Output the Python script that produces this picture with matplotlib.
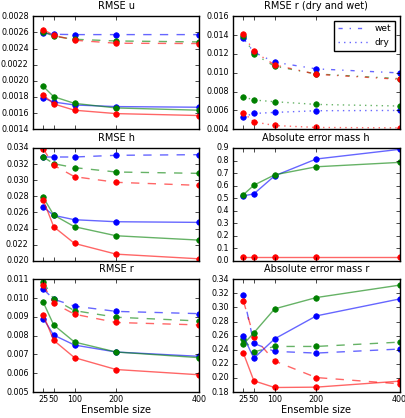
import matplotlib
matplotlib.use("Agg")
import matplotlib.pyplot as plt

plt.style.use("classic")
plt.rcParams["figure.facecolor"] = "white"
plt.rcParams["savefig.facecolor"] = "white"
plt.rcParams["font.size"] = 6
plt.rcParams["font.family"] = ["DejaVu Sans"]

ensemble = [25, 50, 100, 200, 400]

# RMSE u
u_blue_dashed = [0.002593, 0.002577, 0.002573, 0.002573, 0.002573]
u_green_dashed = [0.00261, 0.002552, 0.002515, 0.002494, 0.002482]
u_red_dashed = [0.002635, 0.002565, 0.002503, 0.002466, 0.002462]
u_blue_solid = [0.001787, 0.001737, 0.0017, 0.00168, 0.001672]
u_green_solid = [0.00193, 0.001803, 0.00172, 0.001663, 0.001635]
u_red_solid = [0.001824, 0.001713, 0.001635, 0.001593, 0.001569]

# RMSE r (dry and wet)
rdw_blue_wet = [0.01364, 0.01219, 0.01112, 0.01041, 0.00998]
rdw_green_wet = [0.0139, 0.01201, 0.01069, 0.00987, 0.00937]
rdw_red_wet = [0.01411, 0.01226, 0.01083, 0.00984, 0.0093]
rdw_blue_dry = [0.00532, 0.00567, 0.00578, 0.00596, 0.00599]
rdw_green_dry = [0.00745, 0.0071, 0.00692, 0.00663, 0.00646]
rdw_red_dry = [0.00574, 0.00478, 0.00439, 0.00418, 0.00414]

# RMSE h
h_blue_dashed = [0.03288, 0.03288, 0.03288, 0.03309, 0.03317]
h_green_dashed = [0.03288, 0.03205, 0.03156, 0.03102, 0.03085]
h_red_dashed = [0.03388, 0.03185, 0.03044, 0.02974, 0.02936]
h_blue_solid = [0.02667, 0.02564, 0.0251, 0.02485, 0.02477]
h_green_solid = [0.02787, 0.02568, 0.02423, 0.02311, 0.02257]
h_red_solid = [0.02754, 0.02423, 0.02216, 0.02083, 0.02025]

# Absolute error mass h
mh_blue = [0.518, 0.534, 0.678, 0.812, 0.889]
mh_green = [0.528, 0.603, 0.686, 0.75, 0.785]
mh_red = [0.027, 0.027, 0.027, 0.027, 0.027]

# RMSE r
r_blue_dashed = [0.01047, 0.00994, 0.00957, 0.00929, 0.00917]
r_green_dashed = [0.01086, 0.00994, 0.00933, 0.00898, 0.00878]
r_red_dashed = [0.0107, 0.00973, 0.00914, 0.0087, 0.00857]
r_blue_solid = [0.00891, 0.00803, 0.0075, 0.00713, 0.0069]
r_green_solid = [0.00977, 0.00857, 0.00766, 0.00713, 0.00683]
r_red_solid = [0.0091, 0.00775, 0.00683, 0.0062, 0.00592]

# Absolute error mass r
mr_blue_dashed = [0.317, 0.249, 0.2377, 0.2353, 0.241]
mr_green_dashed = [0.2555, 0.237, 0.2447, 0.2447, 0.2508]
mr_red_dashed = [0.309, 0.258, 0.224, 0.2006, 0.1917]
mr_blue_solid = [0.259, 0.228, 0.2555, 0.288, 0.312]
mr_green_solid = [0.248, 0.264, 0.298, 0.314, 0.3316]
mr_red_solid = [0.235, 0.196, 0.1865, 0.187, 0.1955]


def draw(ax, y, color, ls, label=None):
    ax.plot(ensemble, y, color=color, ls=ls, lw=1, alpha=0.6, label=label)
    ax.plot(ensemble, y, "o", color=color, mec=color, ms=4)


fig = plt.figure(figsize=(4.06, 4.18), dpi=100)
lefts = [0.081, 0.574]
bottoms = [0.691, 0.376, 0.062]
w, h = 0.41, 0.27
axes = [[fig.add_axes([l, b, w, h]) for l in lefts] for b in bottoms]

ax = axes[0][0]
draw(ax, u_blue_dashed, "b", "--")
draw(ax, u_green_dashed, "g", "--")
draw(ax, u_red_dashed, "r", "--")
draw(ax, u_blue_solid, "b", "-")
draw(ax, u_green_solid, "g", "-")
draw(ax, u_red_solid, "r", "-")
ax.set_ylim(0.0014, 0.0028)
ax.set_yticks([0.0014 + 0.0002 * i for i in range(8)])
ax.set_title("RMSE u")

ax = axes[0][1]
draw(ax, rdw_blue_wet, "b", "-.", "wet")
draw(ax, rdw_blue_dry, "b", ":", "dry")
draw(ax, rdw_green_wet, "g", "-.")
draw(ax, rdw_green_dry, "g", ":")
draw(ax, rdw_red_wet, "r", "-.")
draw(ax, rdw_red_dry, "r", ":")
ax.set_ylim(0.004, 0.016)
ax.set_title("RMSE r (dry and wet)")
leg = ax.legend(loc="upper right", fontsize=6.5, numpoints=1, handlelength=3.3,
                borderaxespad=0.5)

ax = axes[1][0]
draw(ax, h_blue_dashed, "b", "--")
draw(ax, h_green_dashed, "g", "--")
draw(ax, h_red_dashed, "r", "--")
draw(ax, h_blue_solid, "b", "-")
draw(ax, h_green_solid, "g", "-")
draw(ax, h_red_solid, "r", "-")
ax.set_ylim(0.020, 0.034)
ax.set_title("RMSE h")

ax = axes[1][1]
draw(ax, mh_blue, "b", "-")
draw(ax, mh_green, "g", "-")
draw(ax, mh_red, "r", "-")
ax.set_ylim(0.0, 0.9)
ax.set_yticks([0.1 * i for i in range(10)])
ax.set_title("Absolute error mass h")

ax = axes[2][0]
draw(ax, r_blue_dashed, "b", "--")
draw(ax, r_green_dashed, "g", "--")
draw(ax, r_red_dashed, "r", "--")
draw(ax, r_blue_solid, "b", "-")
draw(ax, r_green_solid, "g", "-")
draw(ax, r_red_solid, "r", "-")
ax.set_ylim(0.005, 0.011)
ax.set_title("RMSE r")

ax = axes[2][1]
draw(ax, mr_blue_dashed, "b", "--")
draw(ax, mr_green_dashed, "g", "--")
draw(ax, mr_red_dashed, "r", "--")
draw(ax, mr_blue_solid, "b", "-")
draw(ax, mr_green_solid, "g", "-")
draw(ax, mr_red_solid, "r", "-")
ax.set_ylim(0.18, 0.34)
ax.set_yticks([0.18 + 0.02 * i for i in range(9)])
ax.set_title("Absolute error mass r")

for row in axes:
    for a in row:
        a.set_xlim(0, 400)
        a.set_xticks(ensemble)
        a.tick_params(labelsize=5.8, length=3, pad=3)
        a.title.set_fontsize(7)
for row in axes[:2]:
    for a in row:
        a.set_xticklabels([])
for a in axes[2]:
    a.tick_params(axis="x", pad=2)
    a.set_xlabel("Ensemble size", fontsize=7, labelpad=1)

fig.savefig("out.png", dpi=100)
